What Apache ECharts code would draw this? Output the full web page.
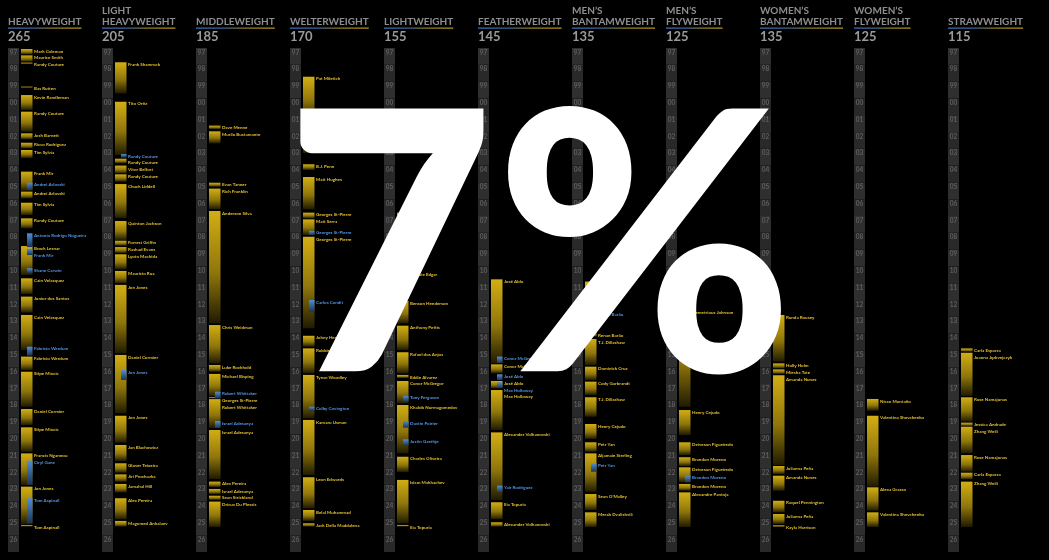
<!DOCTYPE html>
<html>
<head>
<meta charset="utf-8">
<style>
html,body{margin:0;padding:0;background:#000;}
#chart{width:1049px;height:560px;}
</style>
<script src="https://cdn.jsdelivr.net/npm/echarts@6/dist/echarts.min.js"></script>
</head>
<body>
<div id="chart"></div>
<script>
// ---------- DATA ----------
const classNames = ['HEAVYWEIGHT', 'LIGHT\nHEAVYWEIGHT', 'MIDDLEWEIGHT', 'WELTERWEIGHT', 'LIGHTWEIGHT', 'FEATHERWEIGHT',
  'MEN\u2019S\nBANTAMWEIGHT', 'MEN\u2019S\nFLYWEIGHT', 'WOMEN\u2019S\nBANTAMWEIGHT', 'WOMEN\u2019S\nFLYWEIGHT', 'STRAWWEIGHT'];
const classWeights = [265, 205, 185, 170, 155, 145, 135, 125, 135, 125, 115];
const yearLabels = ['97','98','99','00','01','02','03','04','05','06','07','08','09','10','11','12','13','14','15','16','17','18','19','20','21','22','23','24','25','26'];
const overlayText = '7%';

// [champion, start (year), end (year), interim 0/1]
const heavyweight = [
  ['Mark Coleman', 1997.06, 1997.38, 0], ['Maurice Smith', 1997.44, 1997.81, 0], ['Randy Couture', 1997.87, 1997.95, 0],
  ['Bas Rutten', 1999.3, 1999.37, 0], ['Kevin Randleman', 1999.8, 2000.69, 0], ['Randy Couture', 2000.79, 2001.98, 0],
  ['Josh Barnett', 2002.08, 2002.43, 0], ['Ricco Rodriguez', 2002.64, 2002.97, 0], ['Tim Sylvia', 2003.07, 2003.55, 0],
  ['Frank Mir', 2004.36, 2005.5, 0], ['Andrei Arlovski', 2005.02, 2005.45, 1], ['Andrei Arlovski', 2005.55, 2005.95, 0],
  ['Tim Sylvia', 2006.21, 2006.94, 0], ['Randy Couture', 2007.14, 2007.73, 0], ['Antonio Rodrigo Nogueira', 2008.03, 2008.85, 1],
  ['Brock Lesnar', 2008.79, 2010.51, 0], ['Frank Mir', 2008.95, 2009.32, 1], ['Shane Carwin', 2010.11, 2010.39, 1],
  ['Cain Velasquez', 2010.71, 2011.64, 0], ['Junior dos Santos', 2011.8, 2012.75, 0], ['Cain Velasquez', 2012.89, 2014.98, 0],
  ['Fabricio Werdum', 2014.78, 2015.31, 1], ['Fabricio Werdum', 2015.37, 2016.17, 0], ['Stipe Miocic', 2016.27, 2018.35, 0],
  ['Daniel Cormier', 2018.49, 2019.44, 0], ['Stipe Miocic', 2019.58, 2021.03, 0], ['Francis Ngannou', 2021.13, 2023.01, 0],
  ['Ciryl Gane', 2021.56, 2023.0, 1], ['Jon Jones', 2023.11, 2025.33, 0], ['Tom Aspinall', 2023.8, 2025.29, 1],
  ['Tom Aspinall', 2025.39, 2025.49, 0]
];
const lightHeavyweight = [
  ['Frank Shamrock', 1997.85, 1999.7, 0], ['Tito Ortiz', 2000.2, 2003.37, 0], ['Randy Couture', 2003.31, 2003.52, 1],
  ['Randy Couture', 2003.59, 2003.86, 0], ['Vitor Belfort', 2004.0, 2004.46, 0], ['Randy Couture', 2004.52, 2004.96, 0],
  ['Chuck Liddell', 2005.1, 2007.12, 0], ['Quinton Jackson', 2007.3, 2008.43, 0], ['Forrest Griffin', 2008.47, 2008.77, 0],
  ['Rashad Evans', 2008.85, 2009.2, 0], ['Lyoto Machida', 2009.28, 2010.17, 0], ['Mauricio Rua', 2010.27, 2011.0, 0],
  ['Jon Jones', 2011.1, 2015.17, 0], ['Daniel Cormier', 2015.27, 2018.74, 0], ['Jon Jones', 2016.17, 2016.76, 1],
  ['Jon Jones', 2018.89, 2020.49, 0], ['Jan Blachowicz', 2020.63, 2021.58, 0], ['Glover Teixeira', 2021.72, 2022.28, 0],
  ['Jiri Prochazka', 2022.38, 2022.82, 0], ['Jamahal Hill', 2022.95, 2023.45, 0], ['Alex Pereira', 2023.8, 2025.05, 0],
  ['Magomed Ankalaev', 2025.15, 2025.49, 0]
];
const middleweight = [
  ['Dave Menne', 2001.62, 2001.82, 0], ['Murilo Bustamante', 2001.96, 2002.67, 0], ['Evan Tanner', 2005.02, 2005.26, 0],
  ['Rich Franklin', 2005.37, 2006.6, 0], ['Anderson Silva', 2006.7, 2013.39, 0], ['Chris Weidman', 2013.49, 2015.77, 0],
  ['Luke Rockhold', 2015.87, 2016.27, 0], ['Michael Bisping', 2016.4, 2017.74, 0], ['Robert Whittaker', 2017.46, 2017.85, 1],
  ['Georges St-Pierre', 2017.78, 2017.86, 0], ['Robert Whittaker', 2017.9, 2019.62, 0], ['Israel Adesanya', 2019.2, 2019.62, 1],
  ['Israel Adesanya', 2019.74, 2022.65, 0], ['Alex Pereira', 2022.81, 2023.13, 0], ['Israel Adesanya', 2023.25, 2023.55, 0],
  ['Sean Strickland', 2023.65, 2023.9, 0], ['Dricus Du Plessis', 2024.0, 2025.51, 0]
];
const welterweight = [
  ['Pat Miletich', 1998.71, 2001.3, 0], ['Carlos Newton', 2001.35, 2001.8, 0], ['Matt Hughes', 2001.85, 2003.25, 0],
  ['B.J. Penn', 2003.92, 2004.26, 0], ['Matt Hughes', 2004.68, 2006.6, 0], ['Georges St-Pierre', 2006.8, 2007.14, 0],
  ['Matt Serra', 2007.2, 2008.13, 0], ['Georges St-Pierre', 2007.88, 2008.13, 1], ['Georges St-Pierre', 2008.23, 2013.68, 0],
  ['Carlos Condit', 2012.0, 2012.7, 1], ['Johny Hendricks', 2014.13, 2014.78, 0], ['Robbie Lawler', 2014.88, 2016.36, 0],
  ['Tyron Woodley', 2016.46, 2019.04, 0], ['Colby Covington', 2018.35, 2018.59, 1], ['Kamaru Usman', 2019.14, 2022.42, 0],
  ['Leon Edwards', 2022.55, 2024.4, 0], ['Belal Muhammad', 2024.5, 2025.15, 0], ['Jack Della Maddalena', 2025.29, 2025.49, 0]
];
const lightweight = [
  ['Jens Pulver', 2001.12, 2002.2, 0], ['Sean Sherk', 2006.8, 2007.6, 0], ['B.J. Penn', 2008.05, 2010.25, 0],
  ['Frankie Edgar', 2010.33, 2011.95, 0], ['Benson Henderson', 2012.06, 2013.39, 0], ['Anthony Pettis', 2013.53, 2014.98, 0],
  ['Rafael dos Anjos', 2015.11, 2016.36, 0], ['Eddie Alvarez', 2016.46, 2016.64, 0], ['Conor McGregor', 2016.82, 2018.15, 0],
  ['Tony Ferguson', 2017.7, 2018.05, 1], ['Khabib Nurmagomedov', 2018.25, 2021.12, 0], ['Dustin Poirier', 2019.2, 2019.6, 1],
  ['Justin Gaethje', 2020.29, 2020.67, 1], ['Charles Oliveira', 2021.33, 2022.24, 0], ['Islam Makhachev', 2022.71, 2025.29, 0],
  ['Ilia Topuria', 2025.39, 2025.49, 0]
];
const featherweight = [
  ['José Aldo', 2010.77, 2015.77, 0], ['Conor McGregor', 2015.37, 2015.75, 1], ['Conor McGregor', 2015.83, 2016.36, 0],
  ['José Aldo', 2016.42, 2016.76, 1], ['José Aldo', 2016.82, 2017.26, 0], ['Max Holloway', 2016.9, 2017.24, 1],
  ['Max Holloway', 2017.36, 2019.74, 0], ['Alexander Volkanovski', 2019.88, 2023.9, 0], ['Yair Rodriguez', 2023.05, 2023.45, 1],
  ['Ilia Topuria', 2024.04, 2025.05, 0], ['Alexander Volkanovski', 2025.23, 2025.49, 0]
];
const mensBantamweight = [
  ['Dominick Cruz', 2010.9, 2013.9, 0], ['Renan Barão', 2012.71, 2013.79, 1], ['Renan Barão', 2013.98, 2014.18, 0],
  ['T.J. Dillashaw', 2014.32, 2015.87, 0], ['Dominick Cruz', 2015.97, 2016.76, 0], ['Cody Garbrandt', 2016.86, 2017.65, 0],
  ['T.J. Dillashaw', 2017.79, 2018.95, 0], ['Henry Cejudo', 2019.38, 2020.27, 0], ['Petr Yan', 2020.47, 2021.03, 0],
  ['Aljamain Sterling', 2021.13, 2023.41, 0], ['Petr Yan', 2021.72, 2022.22, 1], ['Sean O\u2019Malley', 2023.55, 2024.5, 0],
  ['Merab Dvalishvili', 2024.64, 2025.51, 0]
];
const mensFlyweight = [
  ['Demetrious Johnson', 2012.6, 2018.35, 0], ['Henry Cejudo', 2018.55, 2020.04, 0], ['Deiveson Figueiredo', 2020.47, 2021.23, 0],
  ['Brandon Moreno', 2021.36, 2021.88, 0], ['Deiveson Figueiredo', 2021.96, 2022.85, 0], ['Brandon Moreno', 2022.46, 2022.85, 1],
  ['Brandon Moreno', 2022.95, 2023.35, 0], ['Alexandre Pantoja', 2023.45, 2025.51, 0]
];
const womensBantamweight = [
  ['Ronda Rousey', 2012.89, 2015.67, 0], ['Holly Holm', 2015.77, 2016.07, 0], ['Miesha Tate', 2016.13, 2016.4, 0],
  ['Amanda Nunes', 2016.48, 2021.82, 0], ['Julianna Peña', 2021.88, 2022.36, 0], ['Amanda Nunes', 2022.46, 2023.35, 0],
  ['Raquel Pennington', 2023.95, 2024.64, 0], ['Julianna Peña', 2024.74, 2025.33, 0], ['Kayla Harrison', 2025.41, 2025.51, 0]
];
const womensFlyweight = [
  ['Nicco Montaño', 2017.89, 2018.59, 0], ['Valentina Shevchenko', 2018.89, 2023.11, 0], ['Alexa Grasso', 2023.15, 2024.54, 0],
  ['Valentina Shevchenko', 2024.64, 2025.51, 0]
];
const strawweight = [
  ['Carla Esparza', 2014.88, 2015.08, 0], ['Joanna Jędrzejczyk', 2015.14, 2017.71, 0], ['Rose Namajunas', 2017.79, 2019.24, 0],
  ['Jessica Andrade', 2019.3, 2019.5, 0], ['Zhang Weili', 2019.54, 2021.12, 0], ['Rose Namajunas', 2021.23, 2022.22, 0],
  ['Carla Esparza', 2022.28, 2022.67, 0], ['Zhang Weili', 2022.81, 2025.51, 0]
];
const divisions = [heavyweight, lightHeavyweight, middleweight, welterweight, lightweight, featherweight,
  mensBantamweight, mensFlyweight, womensBantamweight, womensFlyweight, strawweight];

// ---------- BUILD ----------
const FIRST_YEAR = 1997;
const reigns = [];
for (const pass of [0, 1]) {
  divisions.forEach((div, col) => {
    div.forEach(r => { if (r[3] === pass) reigns.push({ col, name: r[0], start: r[1], end: r[2], interim: r[3] }); });
  });
}
const reignData = reigns.map(r => [r.col, r.start, r.end]);
const yearData = [];
classNames.forEach((_, col) => yearLabels.forEach((lab, k) => yearData.push([col, FIRST_YEAR + k])));
const headerData = classNames.map((_, col) => [col, FIRST_YEAR]);

const measureCtx = document.createElement('canvas').getContext('2d');
function textWidth(t, font) { measureCtx.font = font; return measureCtx.measureText(t).width; }

const goldGrad = () => new echarts.graphic.LinearGradient(0, 0, 0, 1, [
  { offset: 0, color: '#d2ae14' }, { offset: 0.55, color: '#8f760b' }, { offset: 1, color: '#201b00' }]);
const blueGrad = () => new echarts.graphic.LinearGradient(0, 0, 0, 1, [
  { offset: 0, color: '#4f8fdb' }, { offset: 1, color: '#1c3354' }]);

function renderYear(params, api) {
  const col = api.value(0), yr = api.value(1);
  const p0 = api.coord([col, yr]), p1 = api.coord([col, yr + 1]);
  const k = yr - FIRST_YEAR;
  return { type: 'group', children: [
    { type: 'rect', shape: { x: p0[0], y: p0[1], width: 11, height: p1[1] - p0[1] },
      style: { fill: k % 2 === 0 ? '#2f2f2f' : '#292929' } },
    { type: 'text', x: p0[0] + 5.5, y: p0[1] + 4.5,
      style: { text: yearLabels[k], fill: '#5f5f5f', font: 'bold 6.5px Lato', align: 'center', verticalAlign: 'middle' } }
  ]};
}

// label positions with simple collision avoidance per column
let labelY = null;
const LABEL_GAP = 6.8;
function computeLabels(api) {
  labelY = new Array(reigns.length);
  classNames.forEach((_, col) => {
    const idx = reigns.map((r, i) => i).filter(i => reigns[i].col === col)
      .sort((a, b) => reigns[a].start - reigns[b].start);
    let prev = -Infinity;
    idx.forEach(i => {
      const y0 = api.coord([col, reigns[i].start])[1] - 0.3;
      const y = Math.max(y0, prev + LABEL_GAP);
      labelY[i] = y; prev = y;
    });
  });
}

function renderReign(params, api) {
  if (!labelY) computeLabels(api);
  const r = reigns[params.dataIndex];
  const p0 = api.coord([api.value(0), api.value(1)]);
  const p1 = api.coord([api.value(0), api.value(2)]);
  const h = Math.max(p1[1] - p0[1], 1.2);
  const x = p0[0] + (r.interim ? 19 : 13);
  const w = r.interim ? 5.5 : 11.5;
  return { type: 'group', children: [
    { type: 'rect', shape: { x, y: p0[1], width: w, height: h }, style: { fill: r.interim ? blueGrad() : goldGrad() } },
    { type: 'text', x: p0[0] + 26, y: labelY[params.dataIndex],
      style: { text: r.name, fill: r.interim ? '#5596e3' : '#e3c030', font: 'bold 4.5px Lato', verticalAlign: 'top' } }
  ]};
}

function renderHeader(params, api) {
  const col = api.value(0);
  const p = api.coord([col, api.value(1)]);
  const x = p[0], top = p[1];
  const lines = classNames[col].split('\n');
  const hFont = 'bold 10px Lato';
  const children = [];
  lines.forEach((ln, i) => {
    children.push({ type: 'text', x, y: top - 26 - (lines.length - 1 - i) * 11,
      style: { text: ln, fill: '#8e8e8e', font: hFont, verticalAlign: 'middle' } });
  });
  const w = Math.max(...lines.map(l => textWidth(l, hFont)));
  children.push({ type: 'rect', shape: { x, y: top - 20.5, width: w, height: 1.2 },
    style: { fill: new echarts.graphic.LinearGradient(0, 0, 1, 0, [
      { offset: 0, color: '#3b72b8' }, { offset: 0.35, color: '#3b6494' }, { offset: 0.6, color: '#8c7a24' }, { offset: 1, color: '#b99a14' }]) } });
  children.push({ type: 'text', x, y: top - 11.5,
    style: { text: String(classWeights[col]), fill: '#9a9a9a', font: 'bold 13px Lato', verticalAlign: 'middle' } });
  return { type: 'group', children };
}

const chart = echarts.init(document.getElementById('chart'), null, { renderer: 'canvas' });
chart.setOption({
  backgroundColor: '#000',
  animation: false,
  grid: { left: 8, right: 7, top: 48, bottom: 8 },
  xAxis: { type: 'value', min: 0, max: classNames.length, show: false },
  yAxis: { type: 'value', min: FIRST_YEAR, max: FIRST_YEAR + yearLabels.length, inverse: true, show: false },
  series: [
    { type: 'custom', name: 'years', data: yearData, renderItem: renderYear, encode: { x: 0, y: 1 }, clip: false, silent: true },
    { type: 'custom', name: 'reigns', data: reignData, renderItem: renderReign, encode: { x: 0, y: [1, 2] }, clip: false, silent: true },
    { type: 'custom', name: 'headers', data: headerData, renderItem: renderHeader, encode: { x: 0, y: 1 }, clip: false, silent: true }
  ],
  graphic: [{
    type: 'text', z: 100, x: 539.5, y: 254.5,
    style: { text: overlayText, fill: '#ffffff', font: '900 362px Lato', align: 'center', verticalAlign: 'middle' }
  }]
});
</script>
</body>
</html>
